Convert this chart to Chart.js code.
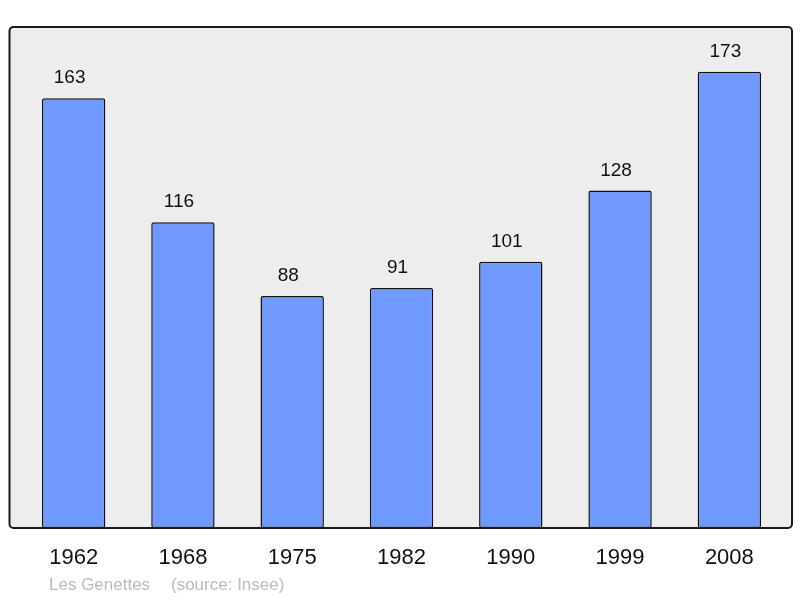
<!DOCTYPE html>
<html>
<head>
<meta charset="utf-8">
<script src="https://cdn.jsdelivr.net/npm/chart.js@4"></script>
<style>
  html, body { margin: 0; padding: 0; background: #fff; }
  #wrap { width: 800px; height: 598px; }
</style>
</head>
<body>
<div id="wrap"><canvas id="myChart" width="800" height="598"></canvas></div>
<script>
const years = ["1962", "1968", "1975", "1982", "1990", "1999", "2008"];
const population = [163, 116, 88, 91, 101, 128, 173];
const placeName = "Les Genettes";
const sourceText = "(source: Insee)";

const FONT = "'Liberation Sans', Arial, sans-serif";

// grey rounded frame behind the bars
function framePath(ctx, chartArea) {
  const x = chartArea.left - 9.5, y = chartArea.top;
  const w = chartArea.right - chartArea.left + 17.5;
  const h = chartArea.bottom - chartArea.top;
  ctx.beginPath();
  ctx.roundRect(x, y, w, h, 4);
}

const frame = {
  id: "frame",
  beforeDatasetsDraw(chart) {
    const { ctx, chartArea } = chart;
    ctx.save();
    framePath(ctx, chartArea);
    ctx.fillStyle = "#ededed";
    ctx.fill();
    ctx.restore();
  },
  afterDatasetsDraw(chart) {
    const { ctx, chartArea } = chart;
    ctx.save();
    framePath(ctx, chartArea);
    ctx.lineWidth = 2;
    ctx.strokeStyle = "#1a1a1a";
    ctx.stroke();

    // values above bars
    ctx.fillStyle = "#111";
    ctx.font = "19px " + FONT;
    ctx.textAlign = "center";
    ctx.textBaseline = "middle";
    chart.getDatasetMeta(0).data.forEach((bar, i) => {
      ctx.fillText(String(population[i]), bar.x - 4, bar.y - 20);
    });

    // footer
    ctx.fillStyle = "#bbbbbb";
    ctx.font = "17px " + FONT;
    ctx.textAlign = "left";
    ctx.fillText(placeName, 49, 585);
    ctx.fillText(sourceText, 171, 585);
    ctx.restore();
  }
};

const ctx = document.getElementById("myChart").getContext("2d");

new Chart(ctx, {
  type: "bar",
  data: {
    labels: years,
    datasets: [
      {
        data: population,
        backgroundColor: "#7099ff",
        borderColor: "#111",
        borderWidth: 1.5,
        borderRadius: 2,
        borderSkipped: false,
        barPercentage: 0.58,
        categoryPercentage: 1,
      },
    ],
  },
  options: {
    responsive: false,
    animation: false,
    layout: { padding: { top: 27, left: 19, right: 16, bottom: 0 } },
    plugins: { legend: { display: false }, tooltip: { enabled: false } },
    scales: {
      y: { display: false, min: 0, max: 190 },
      x: {
        grid: { display: false, drawTicks: false },
        border: { display: false },
        ticks: { color: "#111", font: { family: FONT, size: 22 }, padding: 17 },
        afterFit(scale) { scale.height = 70; },
      },
    },
  },
  plugins: [frame],
});
</script>
</body>
</html>
